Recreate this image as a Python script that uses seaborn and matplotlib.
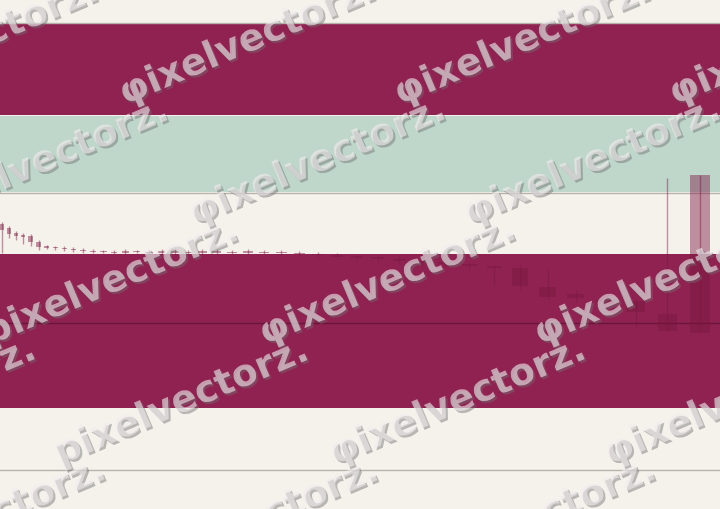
import numpy as np
import matplotlib
matplotlib.use("Agg")
import matplotlib.pyplot as plt
import matplotlib.patheffects as pe
import seaborn as sns

# candle data (price units), one entry per session
body_top = [285, 281, 276, 274, 273, 267, 263, 262, 261, 260, 259, 258, 258, 257, 258,
            258, 257, 258, 258, 257, 258, 258, 257, 258, 257, 257, 256, 255, 254, 253,
            252, 250, 248, 247, 245, 243, 241, 222, 215, 209, 208, 195, 334]
body_bot = [279, 275, 273, 272, 267, 262, 261, 261, 260, 259, 258, 257, 257, 256, 256,
            257, 256, 256, 256, 256, 256, 256, 256, 256, 256, 256, 255, 254, 252, 251,
            250, 248, 246, 245, 243, 241, 223, 212, 211, 207, 197, 178, 176]
high = [287, 283, 278, 276, 275, 269, 264, 263, 263, 262, 261, 260, 259, 259, 260,
        259, 259, 260, 260, 259, 260, 260, 259, 260, 259, 259, 258, 257, 256, 255,
        254, 253, 251, 250, 248, 243, 244, 241, 219, 209, 209, 331, 334]
low = [256, 271, 269, 265, 263, 259, 260, 259, 258, 257, 256, 256, 256, 255, 255,
       256, 255, 255, 255, 255, 255, 255, 255, 255, 255, 254, 253, 252, 250, 249,
       247, 245, 243, 241, 239, 224, 219, 209, 207, 199, 181, 178, 176]

# background zones (price units)
band_lo = [394, 317, 101]
band_hi = [486, 393, 255]
band_colors = ["#8F2251", "#BFD6CB", "#8F2251"]
level_lines = [486.5, 316.5, 39]
support = 186

sns.set_theme(style="white")
plt.rcParams['font.family'] = ['DejaVu Sans']

fig = plt.figure(figsize=(7.2, 5.09), dpi=100)
fig.patch.set_facecolor("#F5F2EC")
ax = fig.add_axes([0, 0, 1, 1])
ax.set_facecolor("#F5F2EC")

k = 0.0386
ax.set_xscale("function", functions=(lambda v: np.exp(k * v), lambda v: np.log(v) / k))
ax.set_xlim(-0.3, 42.58)
ax.set_ylim(0, 509)

for lo, hi, c in zip(band_lo, band_hi, band_colors):
    ax.axhspan(lo, hi, color=c, lw=0, zorder=0)
for y in level_lines:
    ax.axhline(y, color="#B8B2AC", lw=1, zorder=1)
ax.axhline(support, color="#6A1638", lw=1, zorder=1)

idx = np.arange(len(high))
candle = "#7A1840"
ax.vlines(idx, low, high, color=candle, alpha=0.45, lw=1, zorder=2)
heights = np.maximum(np.array(body_top) - np.array(body_bot), 1.2)
ax.bar(idx, heights, bottom=body_bot, width=0.6, color=candle, alpha=0.45,
       lw=0, zorder=2)

ax.axis("off")

# tiled watermark
shadow = [pe.withSimplePatchShadow(offset=(1.5, -1.5), shadow_rgbFace="#6E6E6E", alpha=0.45)]
rows = [(-15, 55), (105, -150), (225, -80), (345, -10), (465, 60), (585, 130)]
for ry, rx in rows:
    for c in range(-1, 4):
        x0 = rx + c * 275
        word = "pixelvectorz." if c == 0 else "φixelvectorz."
        fig.text(x0 / 720, 1 - ry / 509, word,
                 rotation=23, rotation_mode="anchor", ha="left", va="baseline",
                 fontsize=27, fontweight="bold", color="#F2ECEE", alpha=0.6,
                 path_effects=shadow, zorder=5)

fig.savefig("out.png", dpi=100, facecolor=fig.get_facecolor())
